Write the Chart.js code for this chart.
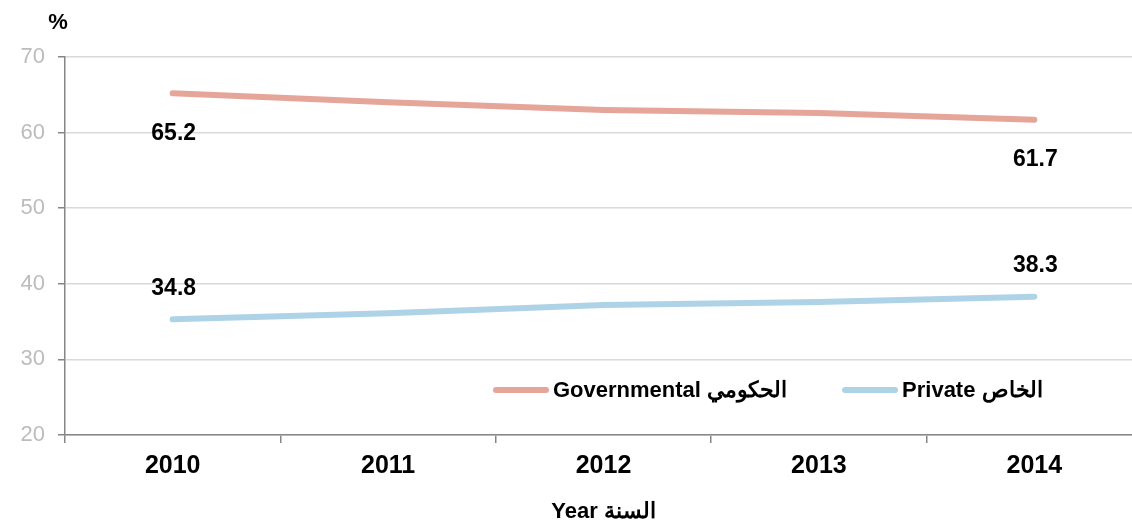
<!DOCTYPE html>
<html>
<head>
<meta charset="utf-8">
<script src="https://cdn.jsdelivr.net/npm/chart.js@4"></script>
<style>
    html, body { margin: 0; padding: 0; background: #fff; overflow: hidden; }
    #wrap { width: 1142px; height: 529px; }
</style>
</head>
<body>
<div id="wrap"><canvas id="sectorChart"></canvas></div>
<script>
// ================= DATA =================
const years = ["2010", "2011", "2012", "2013", "2014"];
const governmental = [65.2, 64.0, 63.0, 62.6, 61.7];
const privateSector = [35.3, 36.1, 37.2, 37.6, 38.3];
const govLabels = ["65.2", "", "", "", "61.7"];
const privLabels = ["34.8", "", "", "", "38.3"];
const seriesNames = ["Governmental الحكومي", "Private الخاص"];
const yTicks = [20, 30, 40, 50, 60, 70];

const FONT = "'Liberation Sans', Arial, sans-serif";
const GREY = "#868686";

// ================= PLUGINS =================
// value labels at the ends of the lines
const endLabels = {
    id: "endLabels",
    afterDatasetsDraw(chart) {
        const ctx = chart.ctx;
        ctx.save();
        ctx.font = "bold 23px " + FONT;
        ctx.fillStyle = "#000";
        ctx.textAlign = "center";
        ctx.textBaseline = "middle";
        chart.data.datasets.forEach((ds, i) => {
            const meta = chart.getDatasetMeta(i);
            ds.valueLabels.forEach((txt, j) => {
                if (!txt) return;
                const pt = meta.data[j];
                ctx.fillText(txt, pt.x + 1, pt.y + ds.labelOffset);
            });
        });
        ctx.restore();
    }
};

// legend inside the plot + the % unit
const innerLegend = {
    id: "innerLegend",
    afterDraw(chart) {
        const ctx = chart.ctx;
        const area = chart.chartArea;
        ctx.save();

        ctx.font = "bold 22px " + FONT;
        ctx.fillStyle = "#000";
        ctx.textAlign = "center";
        ctx.textBaseline = "middle";
        ctx.fillText("%", area.left - 7, 23);

        ctx.textAlign = "left";
        let x = 496;
        const y = 390;
        chart.data.datasets.forEach(ds => {
            ctx.strokeStyle = ds.borderColor;
            ctx.lineWidth = 6;
            ctx.lineCap = "round";
            ctx.beginPath();
            ctx.moveTo(x, y);
            ctx.lineTo(x + 50, y);
            ctx.stroke();
            ctx.fillStyle = "#000";
            ctx.fillText(ds.label, x + 57, y + 1);
            x += 57 + ctx.measureText(ds.label).width + 58;
        });
        ctx.restore();
    }
};

// ================= CHART =================
const canvas = document.getElementById("sectorChart");

new Chart(canvas, {
    type: "line",
    data: {
        labels: years,
        datasets: [
            {
                label: seriesNames[0],
                data: governmental,
                borderColor: "#e6a599",
                borderWidth: 6,
                borderCapStyle: "round",
                pointRadius: 0,
                tension: 0,
                valueLabels: govLabels,
                labelOffset: 40
            },
            {
                label: seriesNames[1],
                data: privateSector,
                borderColor: "#aed3e6",
                borderWidth: 6,
                borderCapStyle: "round",
                pointRadius: 0,
                tension: 0,
                valueLabels: privLabels,
                labelOffset: -31
            }
        ]
    },
    options: {
        responsive: true,
        maintainAspectRatio: false,
        animation: false,
        layout: { padding: { top: 57, left: 0, right: 0, bottom: 0 } },
        plugins: {
            legend: { display: false },
            tooltip: { enabled: false }
        },
        scales: {
            x: {
                offset: true,
                grid: {
                    offset: true,
                    drawOnChartArea: false,
                    tickLength: 8,
                    color: GREY,
                    lineWidth: 1.5
                },
                border: { color: GREY, width: 1.5 },
                ticks: {
                    color: "#000",
                    padding: 8,
                    font: { family: FONT, size: 25, weight: "bold" }
                },
                title: {
                    display: true,
                    text: "Year السنة",
                    color: "#000",
                    padding: { top: 10, bottom: 4 },
                    font: { family: FONT, size: 22, weight: "bold" }
                },
                afterFit(scale) { scale.height = 94; }
            },
            y: {
                min: 20,
                max: 70,
                afterBuildTicks(scale) {
                    scale.ticks = yTicks.map(v => ({ value: v }));
                },
                grid: {
                    color: "#d9d9d9",
                    lineWidth: 1.5,
                    tickLength: 7,
                    tickColor: GREY
                },
                border: { color: GREY, width: 1.5 },
                ticks: {
                    color: "#bcbcbc",
                    padding: 13,
                    font: { family: FONT, size: 22 }
                },
                afterFit(scale) { scale.width = 65; }
            }
        }
    },
    plugins: [endLabels, innerLegend]
});
</script>
</body>
</html>
